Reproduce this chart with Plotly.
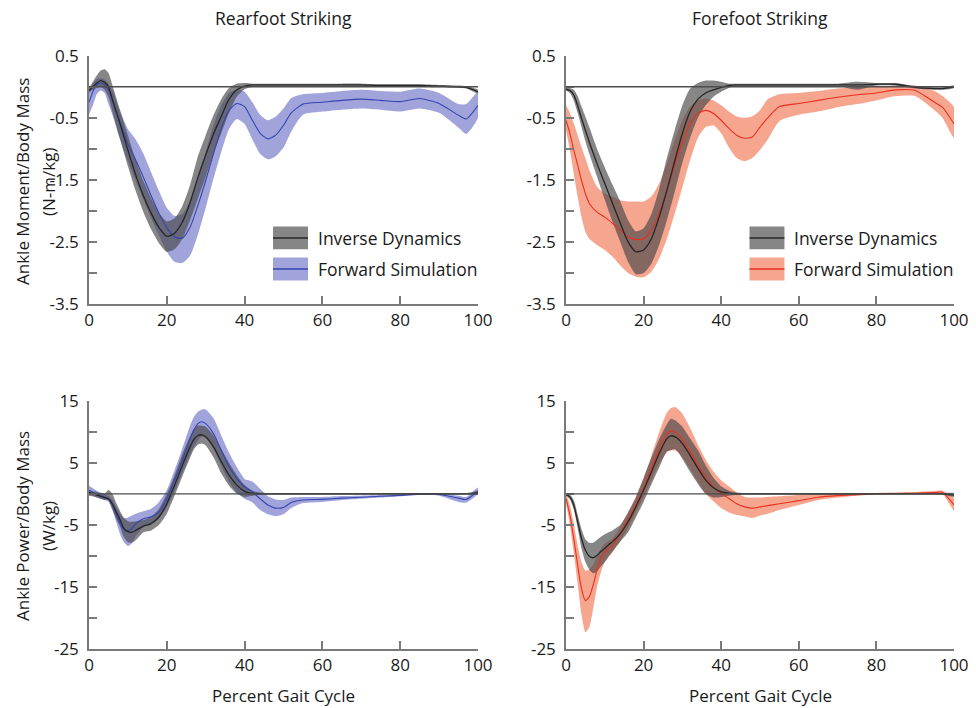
import plotly.graph_objects as go

# ---------------- data ----------------
X_MOM = [0, 1, 2, 3, 4, 5, 6, 8, 10, 12, 14, 16, 18, 20, 22, 24, 26, 28, 30, 32, 34, 36, 38, 40, 42, 44, 46, 48, 50,
         52, 55, 60, 65, 70, 75, 80, 85, 90, 95, 97, 100]
X_POW = [0, 1, 2, 3, 4, 5, 6, 7, 8, 9, 10, 11, 12, 14, 16, 18, 20, 22, 24, 26, 27, 28, 29, 30, 32, 34, 36, 38, 40,
         42, 44, 46, 48, 50, 52, 55, 60, 65, 70, 75, 80, 85, 90, 95, 97, 100]

# Rearfoot moment - inverse dynamics
rf_mom_id = [-0.06, 0.0, 0.06, 0.10, 0.07, 0.0, -0.2,
             -0.6, -1.02, -1.42, -1.76, -2.04, -2.27, -2.41, -2.36, -2.18, -1.86, -1.46, -1.1, -0.76, -0.48, -0.2, -0.05, 0.01, 0.03, 0.03, 0.03, 0.03, 0.03,
             0.03,
             0.03, 0.03, 0.03, 0.03, 0.02, 0.02, 0.02, 0.01, 0.0, -0.01, -0.08]
rf_mom_id_lo = [-0.1, -0.05, -0.02, 0.0, -0.05, -0.17, -0.4,
                -0.85, -1.28, -1.68, -2.02, -2.3, -2.52, -2.66, -2.62, -2.45, -2.15, -1.8, -1.45, -1.08, -0.75, -0.42, -0.16, -0.04, 0.0, 0.01, 0.01, 0.01, 0.01,
                0.01,
                0.01, 0.01, 0.01, 0.01, 0.0, 0.0, 0.0, -0.01, -0.02, -0.03, -0.11]
rf_mom_id_hi = [-0.02, 0.08, 0.18, 0.26, 0.28, 0.22, 0.03,
                -0.38, -0.78, -1.18, -1.52, -1.8, -2.03, -2.17, -2.12, -1.92, -1.58, -1.12, -0.78, -0.46, -0.2, -0.02, 0.05, 0.06, 0.05, 0.05, 0.05, 0.05, 0.05,
                0.05,
                0.05, 0.05, 0.05, 0.05, 0.04, 0.04, 0.04, 0.03, 0.02, 0.01, -0.05]
# Rearfoot moment - forward simulation
rf_mom_fs = [-0.25, -0.08, 0.03, 0.06, 0.03, -0.05, -0.22,
             -0.58, -0.92, -1.18, -1.46, -1.76, -2.04, -2.27, -2.42, -2.44, -2.26, -1.91, -1.51, -1.08, -0.67, -0.38, -0.27, -0.32, -0.54, -0.75, -0.84, -0.78, -0.62,
             -0.42,
             -0.28, -0.25, -0.22, -0.20, -0.22, -0.24, -0.19, -0.27, -0.46, -0.52, -0.30]
rf_mom_fs_lo = [-0.45, -0.3, -0.12, -0.06, -0.1, -0.28, -0.45,
                -0.85, -1.2, -1.52, -1.82, -2.12, -2.4, -2.66, -2.82, -2.84, -2.72, -2.38, -1.95, -1.48, -1.05, -0.68, -0.52, -0.6, -0.85, -1.08, -1.17, -1.12, -0.98,
                -0.72,
                -0.45, -0.4, -0.37, -0.35, -0.37, -0.4, -0.35, -0.42, -0.66, -0.76, -0.5]
rf_mom_fs_hi = [-0.05, 0.05, 0.12, 0.14, 0.12, 0.05, -0.05,
                -0.4, -0.68, -0.85, -1.08, -1.38, -1.68, -1.95, -2.08, -2.05, -1.85, -1.48, -1.05, -0.62, -0.3, -0.1, -0.04, -0.08, -0.25, -0.45, -0.54, -0.48, -0.35,
                -0.18,
                -0.12, -0.1, -0.07, -0.05, -0.07, -0.08, -0.03, -0.1, -0.28, -0.28, -0.08]

# Forefoot moment - inverse dynamics
ff_mom_id = [-0.04, -0.06, -0.13, -0.30, -0.51, -0.70, -0.89,
             -1.24, -1.56, -1.88, -2.2, -2.5, -2.66, -2.63, -2.45, -2.1, -1.67, -1.2, -0.75, -0.40, -0.2, -0.1, -0.05, -0.01, 0.02, 0.03, 0.03, 0.03, 0.03,
             0.03,
             0.03, 0.03, 0.03, 0.03, 0.03, 0.04, 0.04, -0.01, -0.03, -0.03, 0.0]
ff_mom_id_lo = [-0.06, -0.1, -0.22, -0.42, -0.65, -0.88, -1.08,
                -1.45, -1.82, -2.18, -2.5, -2.82, -3.02, -3.0, -2.85, -2.55, -2.15, -1.7, -1.22, -0.82, -0.5, -0.3, -0.16, -0.08, -0.02, 0.01, 0.01, 0.01, 0.01,
                0.01,
                0.01, 0.01, 0.01, 0.01, -0.05, 0.02, 0.02, -0.03, -0.05, -0.05, -0.02]
ff_mom_id_hi = [-0.02, -0.02, -0.05, -0.15, -0.32, -0.48, -0.65,
                -1.0, -1.3, -1.58, -1.85, -2.15, -2.33, -2.28, -2.05, -1.65, -1.15, -0.7, -0.3, -0.03, 0.06, 0.1, 0.1, 0.08, 0.05, 0.05, 0.05, 0.05, 0.05,
                0.05,
                0.05, 0.05, 0.05, 0.05, 0.08, 0.06, 0.06, 0.01, -0.01, -0.01, 0.02]
# Forefoot moment - forward simulation
ff_mom_fs = [-0.54, -0.75, -1.02, -1.26, -1.51, -1.72, -1.88,
             -2.02, -2.10, -2.2, -2.31, -2.42, -2.46, -2.45, -2.31, -2.04, -1.67, -1.26, -0.89, -0.59, -0.43, -0.38, -0.43, -0.54, -0.67, -0.78, -0.83, -0.81, -0.65,
             -0.5,
             -0.32, -0.27, -0.22, -0.17, -0.13, -0.1, -0.05, -0.06, -0.25, -0.33, -0.6]
ff_mom_fs_lo = [-0.7, -1.02, -1.4, -1.77, -2.1, -2.34, -2.45,
                -2.55, -2.63, -2.74, -2.88, -3.0, -3.06, -3.07, -2.98, -2.77, -2.45, -2.05, -1.62, -1.18, -0.82, -0.65, -0.62, -0.75, -0.98, -1.15, -1.2, -1.15, -1.02,
                -0.85,
                -0.55, -0.45, -0.4, -0.33, -0.28, -0.22, -0.15, -0.15, -0.38, -0.5, -0.82]
ff_mom_fs_hi = [-0.3, -0.42, -0.59, -0.78, -0.97, -1.15, -1.34,
                -1.61, -1.72, -1.77, -1.83, -1.85, -1.85, -1.85, -1.77, -1.56, -1.24, -0.86, -0.54, -0.32, -0.22, -0.19, -0.22, -0.3, -0.4, -0.48, -0.5, -0.48, -0.38,
                -0.2,
                -0.12, -0.1, -0.07, -0.03, -0.01, 0.0, 0.02, 0.02, -0.07, -0.15, -0.33]

# Rearfoot power - inverse dynamics
rf_pow_id = [0.2, 0.0, -0.2, -0.4, -0.6, -0.8, -1.6, -2.9, -4.2, -5.6, -6.1, -6.2, -5.9,
             -5.2, -4.8, -3.7, -1.6, 1.4, 4.6, 7.6,
             8.8, 9.4, 9.5, 9.2,
             7.6, 5.2, 3.0, 1.4, 0.4, 0.05, 0.0, 0.0, 0.0, 0.0, 0.0,
             0.0, 0.0, 0.0, 0.0, 0.0, 0.0, 0.0, 0.0, 0.0, 0.0, 0.1]
rf_pow_id_lo = [-0.3, -0.4, -0.6, -0.8, -1.0, -1.0, -2.5, -4.0, -5.3, -7.0, -7.8, -7.9, -7.5,
                -6.2, -5.9, -5.0, -3.2, -0.3, 2.8, 5.8,
                7.2, 7.9, 8.1, 7.8,
                5.9, 3.3, 1.3, 0.0, -0.5, -0.3, -0.15, -0.12, -0.12, -0.12, -0.12,
                -0.12, -0.12, -0.12, -0.12, -0.12, -0.12, -0.12, -0.12, -0.12, -0.12, -0.15]
rf_pow_id_hi = [0.6, 0.4, 0.3, 0.1, 0.0, 0.6, 0.0, -1.5, -2.8, -3.9, -4.4, -4.5, -4.4,
                -4.2, -3.7, -2.4, 0.0, 3.0, 6.4, 9.3,
                10.5, 11.0, 11.0, 10.8,
                9.4, 7.2, 5.0, 3.0, 1.4, 0.5, 0.2, 0.12, 0.12, 0.12, 0.12,
                0.12, 0.12, 0.12, 0.12, 0.12, 0.12, 0.12, 0.12, 0.12, 0.12, 0.4]
# Rearfoot power - forward simulation
rf_pow_fs = [0.6, 0.2, -0.1, -0.3, -0.5, -0.9, -1.8, -3.4, -4.8, -5.7, -5.9, -5.6, -4.8,
             -4.0, -3.7, -2.9, -0.8, 2.2, 5.4, 8.9,
             10.3, 11.3, 11.6, 11.3,
             9.7, 7.0, 4.4, 2.5, 1.1, 0.3, -0.8, -1.8, -2.3, -2.2, -1.4,
             -1.0, -0.9, -0.7, -0.55, -0.4, -0.25, -0.05, -0.1, -0.7, -0.9, 0.5]
rf_pow_fs_lo = [0.0, -0.3, -0.6, -0.8, -1.0, -1.3, -2.6, -4.5, -6.5, -7.8, -8.4, -8.0, -6.8,
                -5.4, -4.8, -4.0, -2.2, 0.4, 3.4, 6.3,
                7.6, 8.6, 9.2, 9.0,
                7.2, 4.5, 1.9, 0.2, -0.8, -1.4, -2.6, -3.3, -3.6, -3.3, -2.3,
                -1.5, -1.3, -1.0, -0.8, -0.6, -0.4, -0.2, -0.3, -1.3, -1.4, 0.0]
rf_pow_fs_hi = [1.3, 0.9, 0.5, 0.2, 0.0, -0.4, -0.9, -2.1, -3.2, -3.9, -3.8, -3.5, -3.2,
                -2.8, -2.4, -1.3, 0.6, 3.8, 7.3, 11.0,
                12.4, 13.2, 13.6, 13.6,
                12.2, 9.4, 6.6, 4.3, 2.4, 2.0, 0.8, -0.4, -0.9, -1.0, -0.6,
                -0.5, -0.5, -0.35, -0.3, -0.2, -0.1, 0.1, 0.1, -0.3, -0.5, 1.0]

# Forefoot power - inverse dynamics
ff_pow_id = [-0.1, -0.5, -1.8, -4.5, -7.2, -9.1, -10.05, -10.3, -9.9, -9.3, -8.8, -8.2, -7.7,
             -6.4, -4.5, -2.1, 0.6, 3.5, 6.5, 8.9,
             9.35, 9.2, 8.8, 8.1,
             6.2, 4.1, 2.2, 0.97, 0.3, 0.1, 0.0, 0.0, 0.0, 0.0, 0.0,
             0.0, 0.0, 0.0, 0.0, 0.0, 0.0, 0.0, 0.0, 0.0, 0.0, -0.2]
ff_pow_id_lo = [-0.3, -0.9, -2.5, -5.5, -8.8, -11.0, -12.2, -12.8, -12.5, -11.7, -11.0, -10.1, -9.3,
                -7.7, -6.2, -3.8, -1.3, 1.5, 4.2, 6.8,
                7.0, 7.2, 6.6, 5.6,
                3.5, 1.6, 0.0, -0.6, -0.5, -0.3, -0.2, -0.12, -0.12, -0.12, -0.12,
                -0.12, -0.12, -0.12, -0.12, -0.12, -0.12, -0.12, -0.12, -0.12, -0.12, -0.5]
ff_pow_id_hi = [0.1, -0.1, -1.0, -3.3, -5.7, -7.3, -7.9, -7.9, -7.4, -6.9, -6.5, -6.2, -5.9,
                -5.0, -3.0, -0.5, 2.6, 5.8, 8.8, 11.2,
                12.1, 11.9, 11.4, 10.8,
                8.9, 7.0, 4.6, 2.6, 1.2, 0.5, 0.2, 0.12, 0.12, 0.12, 0.12,
                0.12, 0.12, 0.12, 0.12, 0.12, 0.12, 0.12, 0.12, 0.12, 0.12, 0.1]
# Forefoot power - forward simulation
ff_pow_fs = [-0.75, -3.4, -7.2, -11.5, -15.3, -17.2, -16.6, -14.7, -12.3, -10.4, -9.4, -8.8, -8.3,
             -6.4, -4.2, -1.8, 0.9, 4.1, 7.3, 9.7,
             10.1, 9.9, 9.4, 8.7,
             6.8, 4.6, 2.7, 1.1, 0.05, -0.75, -1.6, -2.1, -2.3, -2.1, -1.9,
             -1.6, -1.1, -0.55, -0.3, -0.15, 0.0, 0.05, 0.1, 0.2, 0.25, -1.8]
ff_pow_fs_lo = [-1.5, -5.0, -9.5, -14.5, -19.5, -22.3, -21.5, -18.5, -15.0, -12.6, -11.0, -10.1, -9.4,
                -7.6, -5.5, -3.0, -0.6, 2.2, 4.8, 6.7,
                7.0, 7.0, 6.6, 5.9,
                4.0, 1.9, 0.0, -1.2, -2.3, -3.0, -3.4, -3.6, -3.9, -3.5, -3.2,
                -2.6, -1.8, -1.0, -0.6, -0.3, -0.1, -0.05, 0.0, 0.0, 0.0, -2.7]
ff_pow_fs_hi = [0.0, -1.8, -4.8, -8.3, -11.0, -12.4, -12.2, -11.4, -10.0, -8.8, -8.0, -7.6, -7.2,
                -5.3, -3.0, -0.6, 2.4, 6.1, 9.9, 13.1,
                13.8, 14.0, 13.6, 12.9,
                10.6, 7.9, 5.5, 3.6, 2.2, 1.2, 0.2, -0.5, -0.6, -0.6, -0.5,
                -0.4, -0.2, 0.0, 0.0, 0.1, 0.15, 0.2, 0.3, 0.45, 0.5, -0.7]

COL_TITLES = ["Rearfoot Striking", "Forefoot Striking"]
ROW_TITLES = [("Ankle Moment/Body Mass", "(N-m/kg)"), ("Ankle Power/Body Mass", "(W/kg)")]
X_TITLE = "Percent Gait Cycle"
LEGEND_LABELS = ["Inverse Dynamics", "Forward Simulation"]
X_TICKS = [0, 20, 40, 60, 80, 100]
MOM_TICKS = [0.5, 0, -0.5, -1, -1.5, -2, -2.5, -3, -3.5]
MOM_TICKTEXT = ["0.5", "", "-0.5", "", "-1.5", "", "-2.5", "", "-3.5"]
POW_TICKS = [15, 10, 5, 0, -5, -10, -15, -20, -25]
POW_TICKTEXT = ["15", "", "5", "", "-5", "", "-15", "", "-25"]

# ---------------- style ----------------
FONT = "Open Sans"
TXT = "#1a1a1a"
GREY_BAND = "rgba(72,72,72,0.66)"
GREY_LINE = "#262626"
BLUE_BAND = "rgba(110,115,200,0.65)"
BLUE_LINE = "#3445b0"
RED_BAND = "rgba(240,110,75,0.62)"
RED_LINE = "#e8301f"
AXIS_COL = "#7a7a7a"

W, H = 976, 708
XL = (89 / W, 478 / W)
XR = (566 / W, 954 / W)
YT = ((708 - 304) / H, (708 - 55.7) / H)
YB = ((708 - 649) / H, (708 - 400.7) / H)

fig = go.Figure()


def band(x, lo, hi, color, xa, ya):
    fig.add_trace(go.Scatter(x=list(x) + list(x)[::-1], y=list(hi) + list(lo)[::-1],
                             fill="toself", fillcolor=color, mode="lines",
                             line=dict(width=0, shape="spline", smoothing=0.6),
                             hoverinfo="skip", showlegend=False, xaxis=xa, yaxis=ya))


def line(x, y, color, width, xa, ya):
    fig.add_trace(go.Scatter(x=x, y=y, mode="lines",
                             line=dict(color=color, width=width, shape="spline", smoothing=0.6),
                             showlegend=False, xaxis=xa, yaxis=ya))


panels = [
    ("x", "y", X_MOM, rf_mom_id, rf_mom_id_lo, rf_mom_id_hi, rf_mom_fs, rf_mom_fs_lo, rf_mom_fs_hi, BLUE_BAND, BLUE_LINE),
    ("x2", "y2", X_MOM, ff_mom_id, ff_mom_id_lo, ff_mom_id_hi, ff_mom_fs, ff_mom_fs_lo, ff_mom_fs_hi, RED_BAND, RED_LINE),
    ("x3", "y3", X_POW, rf_pow_id, rf_pow_id_lo, rf_pow_id_hi, rf_pow_fs, rf_pow_fs_lo, rf_pow_fs_hi, BLUE_BAND, BLUE_LINE),
    ("x4", "y4", X_POW, ff_pow_id, ff_pow_id_lo, ff_pow_id_hi, ff_pow_fs, ff_pow_fs_lo, ff_pow_fs_hi, RED_BAND, RED_LINE),
]

for xa, ya, xs, idm, idl, idh, fsm, fsl, fsh, fband, fline in panels:
    band(xs, fsl, fsh, fband, xa, ya)
    band(xs, idl, idh, GREY_BAND, xa, ya)
    line(xs, fsm, fline, 1.1, xa, ya)
    line(xs, idm, GREY_LINE, 1.3, xa, ya)

shapes = []
# zero reference lines
for xa, ya in [("x", "y"), ("x2", "y2"), ("x3", "y3"), ("x4", "y4")]:
    shapes.append(dict(type="line", xref=xa, yref=ya, x0=0, x1=100, y0=0, y1=0,
                       line=dict(color="#4d4d4d", width=1.3), layer="above"))

annotations = []
# legends in the two top panels
for xa, ya, fband, fline in [("x", "y", BLUE_BAND, BLUE_LINE), ("x2", "y2", RED_BAND, RED_LINE)]:
    for (y0, y1), bcol, lcol, label in [((-2.62, -2.25), GREY_BAND, GREY_LINE, LEGEND_LABELS[0]),
                                        ((-3.12, -2.75), fband, fline, LEGEND_LABELS[1])]:
        shapes.append(dict(type="rect", xref=xa, yref=ya, x0=47.3, x1=56.3, y0=y0, y1=y1,
                           fillcolor=bcol, line=dict(width=0), layer="above"))
        ym = (y0 + y1) / 2
        shapes.append(dict(type="line", xref=xa, yref=ya, x0=47.3, x1=56.3, y0=ym, y1=ym,
                           line=dict(color=lcol, width=1.5), layer="above"))
        annotations.append(dict(xref=xa, yref=ya, x=58.3, y=ym, text=label, showarrow=False,
                                xanchor="left", yanchor="middle",
                                font=dict(family=FONT, size=17.5, color=TXT)))

# column titles and x titles
for cx, t in zip([(XL[0] + XL[1]) / 2, (XR[0] + XR[1]) / 2], COL_TITLES):
    annotations.append(dict(xref="paper", yref="paper", x=cx, y=1 - 18 / H, text=t, showarrow=False,
                            xanchor="center", yanchor="middle", font=dict(family=FONT, size=17.5, color=TXT)))
    annotations.append(dict(xref="paper", yref="paper", x=cx, y=1 - 695 / H, text=X_TITLE, showarrow=False,
                            xanchor="center", yanchor="middle", font=dict(family=FONT, size=17, color=TXT)))

# row titles
for cy, (t1, t2) in zip([1 - 182 / H, 1 - 526 / H], ROW_TITLES):
    annotations.append(dict(xref="paper", yref="paper", x=22 / W, y=cy, text=t1, showarrow=False, textangle=-90,
                            xanchor="center", yanchor="middle", font=dict(family=FONT, size=17, color=TXT)))
    annotations.append(dict(xref="paper", yref="paper", x=48 / W, y=cy, text=t2, showarrow=False, textangle=-90,
                            xanchor="center", yanchor="middle", font=dict(family=FONT, size=17, color=TXT)))


def xaxis(domain, anchor):
    return dict(domain=domain, anchor=anchor, range=[0, 100], showline=True, linecolor=AXIS_COL, linewidth=1.5,
                ticks="inside", ticklen=8, tickwidth=1.5, tickcolor=AXIS_COL, tickvals=X_TICKS,
                showgrid=False, zeroline=False, automargin=False,
                tickfont=dict(family=FONT, size=17, color=TXT))


def yaxis(domain, anchor, rng, tv, tt):
    return dict(domain=domain, anchor=anchor, range=rng, showline=True, linecolor=AXIS_COL, linewidth=1.5,
                ticks="inside", ticklen=8, tickwidth=1.5, tickcolor=AXIS_COL, tickvals=tv, ticktext=tt,
                showgrid=False, zeroline=False, automargin=False, ticklabelstandoff=5,
                tickfont=dict(family=FONT, size=17, color=TXT))


fig.update_layout(
    template="none",
    width=W, height=H, autosize=False,
    margin=dict(l=0, r=0, t=0, b=0, pad=0),
    paper_bgcolor="white", plot_bgcolor="white",
    showlegend=False,
    xaxis=xaxis(XL, "y"), yaxis=yaxis(YT, "x", [-3.5, 0.5], MOM_TICKS, MOM_TICKTEXT),
    xaxis2=xaxis(XR, "y2"), yaxis2=yaxis(YT, "x2", [-3.5, 0.5], MOM_TICKS, MOM_TICKTEXT),
    xaxis3=xaxis(XL, "y3"), yaxis3=yaxis(YB, "x3", [-25, 15], POW_TICKS, POW_TICKTEXT),
    xaxis4=xaxis(XR, "y4"), yaxis4=yaxis(YB, "x4", [-25, 15], POW_TICKS, POW_TICKTEXT),
    shapes=shapes, annotations=annotations,
)

fig.write_html("out.html")
